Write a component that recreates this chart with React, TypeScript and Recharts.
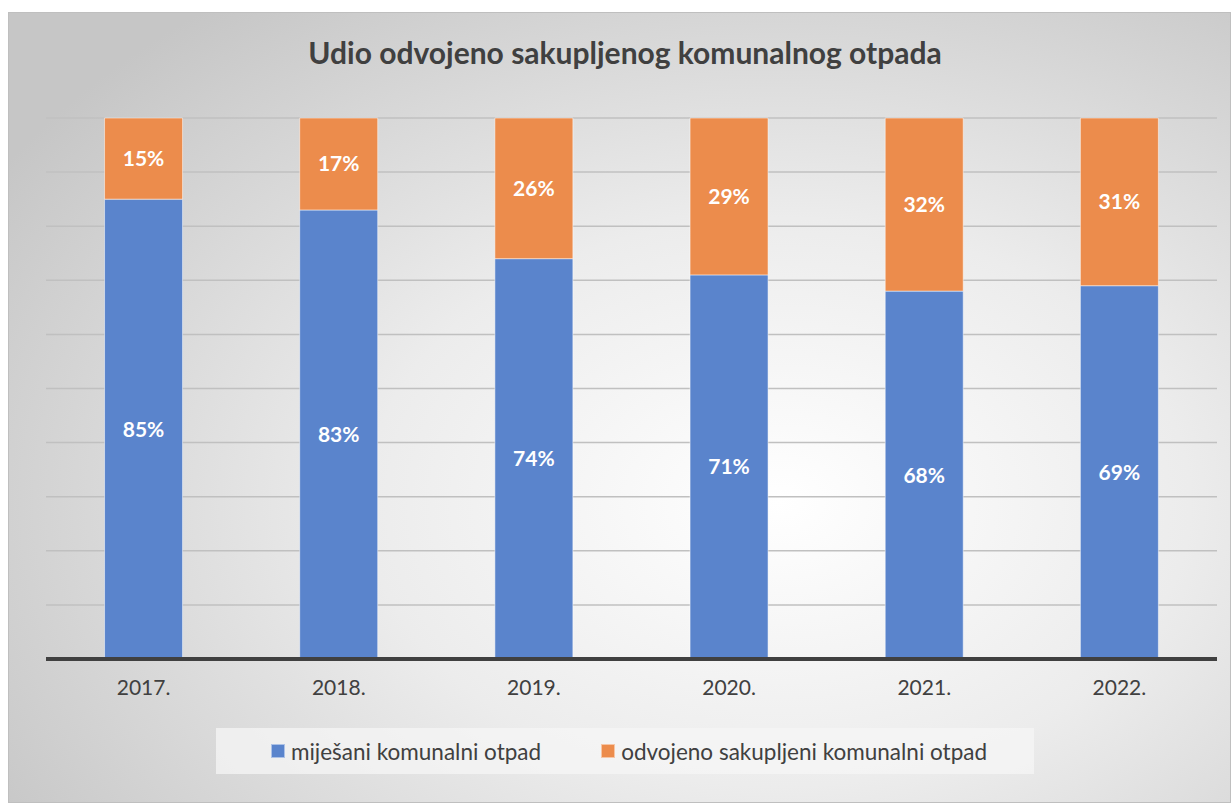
import { BarChart, Bar, XAxis, YAxis, CartesianGrid, Legend, LabelList } from 'recharts'

const years = ['2017.', '2018.', '2019.', '2020.', '2021.', '2022.']
const mixed = [85, 83, 74, 71, 68, 69]
const separated = [15, 17, 26, 29, 32, 31]
const yTicks = [0, 10, 20, 30, 40, 50, 60, 70, 80, 90, 100]

const MIXED_NAME = 'miješani komunalni otpad'
const SEP_NAME = 'odvojeno sakupljeni komunalni otpad'

const BLUE = '#5a84cc'
const ORANGE = '#ec8c4c'
const TEXT = '#404040'
const FONT = 'Lato, "Open Sans", sans-serif'

const data = years.map((year, i) => ({ year, mixed: mixed[i], separated: separated[i] }))

function LegendBox() {
  const items = [
    { name: MIXED_NAME, color: BLUE },
    { name: SEP_NAME, color: ORANGE },
  ]
  return (
    <div
      style={{
        background: 'rgba(245,245,245,0.75)',
        height: 46,
        width: 818,
        display: 'flex',
        alignItems: 'center',
        justifyContent: 'center',
        gap: 60,
        paddingLeft: 8,
        boxSizing: 'border-box',
        fontFamily: FONT,
        fontSize: 22.5,
        color: TEXT,
      }}
    >
      {items.map((it) => (
        <span key={it.name} style={{ display: 'flex', alignItems: 'center' }}>
          <span
            style={{
              width: 12,
              height: 12,
              background: it.color,
              border: '1px solid rgba(255,255,255,0.5)',
              marginRight: 6,
              display: 'inline-block',
            }}
          />
          {it.name}
        </span>
      ))}
    </div>
  )
}

export default function App() {
  return (
    <div
      style={{
        position: 'absolute',
        left: 8,
        top: 12,
        width: 1223,
        height: 791,
        boxSizing: 'border-box',
        border: '1px solid #bfbfbf',
        background: 'radial-gradient(ellipse 75% 80% at 63% 62%, #ffffff 0%, #ececec 45%, #c6c6c6 100%)',
        fontFamily: FONT,
        overflow: 'hidden',
      }}
    >
      <div
        style={{
          position: 'absolute',
          top: 21,
          left: 0,
          width: '100%',
          textAlign: 'center',
          paddingLeft: 11,
          boxSizing: 'border-box',
          fontSize: 30,
          fontWeight: 700,
          color: TEXT,
        }}
      >
        Udio odvojeno sakupljenog komunalnog otpada
      </div>
      <BarChart
        width={1221}
        height={789}
        data={data}
        margin={{ top: 105, right: 13, bottom: 0, left: 37 }}
        barCategoryGap="30%"
        style={{ position: 'absolute', left: 0, top: 0 }}
      >
        <CartesianGrid vertical={false} stroke="#c0c0c0" strokeWidth={1.5} />
        <YAxis hide domain={[0, 100]} ticks={yTicks} />
        <XAxis
          dataKey="year"
          axisLine={{ stroke: TEXT, strokeWidth: 4 }}
          tickLine={false}
          tick={{ fill: TEXT, fontSize: 21, fontFamily: FONT }}
          tickMargin={15}
          height={40}
        />
        <Legend
          verticalAlign="bottom"
          height={103}
          content={() => <LegendBox />}
          wrapperStyle={{ display: 'flex', justifyContent: 'flex-start', paddingLeft: 170, paddingTop: 29, boxSizing: 'border-box' }}
        />
        <Bar dataKey="mixed" name={MIXED_NAME} stackId="a" fill={BLUE} stroke="rgba(255,255,255,0.5)" isAnimationActive={false}>
          <LabelList dataKey="mixed" position="center" fill="#ffffff" fontSize={21} fontWeight={700} formatter={(v: any) => `${v}%`} />
        </Bar>
        <Bar dataKey="separated" name={SEP_NAME} stackId="a" fill={ORANGE} stroke="rgba(255,255,255,0.5)" isAnimationActive={false}>
          <LabelList dataKey="separated" position="center" fill="#ffffff" fontSize={21} fontWeight={700} formatter={(v: any) => `${v}%`} />
        </Bar>
      </BarChart>
    </div>
  )
}
